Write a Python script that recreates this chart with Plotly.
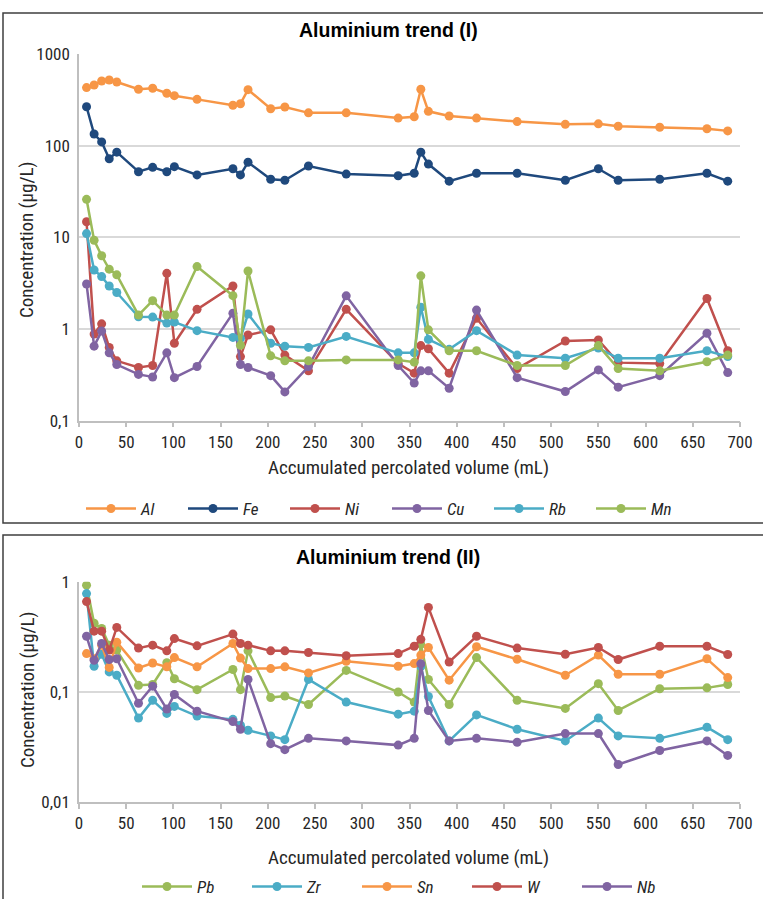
import plotly.graph_objects as go

W, H = 763, 899

volume = [8, 16, 24, 32, 40, 63, 78, 93, 101, 125, 163, 171, 179, 203, 218, 243, 283,
          338, 355, 362, 370, 392, 421, 464, 515, 550, 571, 615, 665, 687]

# Chart I
al = [430, 459, 508, 520, 495, 412, 423, 373, 351, 320, 276, 287, 408, 253, 264, 228, 228,
      200, 207, 412, 237, 211, 200, 183, 171, 173, 163, 159, 153, 145]
fe = [266, 134, 110, 72, 85, 52, 58, 52, 59, 48, 56, 48, 66, 43, 42, 60, 49,
      47, 50, 85, 63, 41, 50, 50, 42, 56, 42, 43, 50, 41]
ni = [14.8, 0.88, 1.14, 0.63, 0.45, 0.38, 0.40, 4.05, 0.70, 1.64, 2.95, 0.50, 0.86, 0.98, 0.52, 0.35, 1.64,
      0.42, 0.33, 0.66, 0.61, 0.33, 1.31, 0.37, 0.74, 0.76, 0.43, 0.42, 2.15, 0.58]
cu = [3.1, 0.65, 0.95, 0.55, 0.41, 0.32, 0.30, 0.55, 0.295, 0.39, 1.49, 0.41, 0.38, 0.31, 0.206, 0.39, 2.30,
      0.40, 0.257, 0.35, 0.35, 0.226, 1.61, 0.295, 0.208, 0.358, 0.232, 0.31, 0.90, 0.335]
rb = [11.0, 4.4, 3.73, 2.95, 2.5, 1.36, 1.35, 1.16, 1.19, 0.96, 0.81, 0.79, 1.46, 0.70, 0.65, 0.63, 0.83,
      0.55, 0.55, 1.73, 0.77, 0.60, 0.96, 0.52, 0.48, 0.62, 0.48, 0.48, 0.58, 0.50]
mn = [26, 9.3, 6.3, 4.5, 3.9, 1.42, 2.04, 1.42, 1.42, 4.8, 2.31, 0.665, 4.3, 0.51, 0.45, 0.45, 0.46,
      0.46, 0.435, 3.8, 0.98, 0.58, 0.58, 0.40, 0.40, 0.66, 0.37, 0.35, 0.44, 0.52]

# Chart II
pb = [0.93, 0.42, 0.377, 0.266, 0.24, 0.115, 0.117, 0.184, 0.132, 0.105, 0.16, 0.105, 0.236, 0.089, 0.092, 0.077, 0.157,
      0.10, 0.081, 0.27, 0.13, 0.077, 0.205, 0.084, 0.071, 0.119, 0.068, 0.107, 0.109, 0.117]
zr = [0.78, 0.171, 0.22, 0.152, 0.142, 0.058, 0.084, 0.064, 0.074, 0.0605, 0.0565, 0.05, 0.045, 0.040, 0.037, 0.13, 0.081,
      0.063, 0.067, 0.17, 0.091, 0.036, 0.062, 0.046, 0.036, 0.058, 0.040, 0.038, 0.048, 0.037]
sn = [0.223, 0.20, 0.266, 0.167, 0.283, 0.165, 0.183, 0.169, 0.205, 0.169, 0.275, 0.203, 0.163, 0.163, 0.169, 0.149, 0.19,
      0.171, 0.181, 0.216, 0.253, 0.128, 0.257, 0.198, 0.142, 0.216, 0.145, 0.145, 0.20, 0.135]
w = [0.66, 0.356, 0.356, 0.24, 0.385, 0.25, 0.266, 0.236, 0.305, 0.262, 0.335, 0.275, 0.266, 0.236, 0.236, 0.228, 0.213,
     0.223, 0.26, 0.30, 0.585, 0.187, 0.32, 0.25, 0.22, 0.253, 0.197, 0.26, 0.26, 0.219]
nb = [0.32, 0.194, 0.275, 0.197, 0.20, 0.079, 0.113, 0.070, 0.095, 0.067, 0.054, 0.046, 0.13, 0.034, 0.030, 0.038, 0.036,
      0.033, 0.038, 0.18, 0.068, 0.036, 0.038, 0.035, 0.042, 0.042, 0.022, 0.0295, 0.036, 0.0266]

series_1 = [("Al", al, "#F79646"), ("Fe", fe, "#1F497D"), ("Ni", ni, "#C0504D"),
            ("Cu", cu, "#8064A2"), ("Rb", rb, "#4BACC6"), ("Mn", mn, "#9BBB59")]
series_2 = [("Pb", pb, "#9BBB59"), ("Zr", zr, "#4BACC6"), ("Sn", sn, "#F79646"),
            ("W", w, "#C0504D"), ("Nb", nb, "#8064A2")]

x_ticks = list(range(0, 701, 50))
y1_ticks = [0.1, 1, 10, 100, 1000]
y1_text = ["0,1", "1", "10", "100", "1000"]
y2_ticks = [0.01, 0.1, 1]
y2_text = ["0,01", "0,1", "1"]

FONT = "Liberation Sans Narrow, Arial Narrow, Roboto Condensed, Liberation Sans, Arial, sans-serif"
TXT = "#262626"

fig = go.Figure()
for name, vals, col in series_1:
    fig.add_trace(go.Scatter(x=volume, y=vals, name=f"<i>{name}</i>", mode="lines+markers",
                             line=dict(color=col, width=2.5), marker=dict(color=col, size=9),
                             xaxis="x", yaxis="y", legend="legend"))
for name, vals, col in series_2:
    fig.add_trace(go.Scatter(x=volume, y=vals, name=f"<i>{name}</i>", mode="lines+markers",
                             line=dict(color=col, width=2.5), marker=dict(color=col, size=9),
                             xaxis="x2", yaxis="y2", legend="legend2"))

def px_x(p):
    return p / W

def px_y(p):
    return 1 - p / H

xdom = [px_x(79), px_x(740)]
xcommon = dict(range=[0, 700], tickvals=x_ticks, showgrid=False, zeroline=False, showline=True,
               linecolor="#BFBFBF", linewidth=1.5, ticks="outside", ticklen=5, tickcolor="#BFBFBF",
               tickwidth=1.5, tickfont=dict(family=FONT, size=17, color=TXT), domain=xdom)
ycommon = dict(type="log", showgrid=True, gridcolor="#D9D9D9", gridwidth=1.5, zeroline=False,
               showline=True, linecolor="#BFBFBF", linewidth=1.5, ticks="", ticklabelstandoff=4,
               tickfont=dict(family=FONT, size=17, color=TXT))

legend_common = dict(orientation="h", xanchor="center", yanchor="middle", bgcolor="rgba(0,0,0,0)",
                     font=dict(family=FONT, size=17, color=TXT), itemwidth=50,
                     entrywidthmode="pixels", traceorder="normal")

fig.update_layout(
    width=W, height=H, margin=dict(l=0, r=0, t=0, b=0, pad=0, autoexpand=False),
    paper_bgcolor="white", plot_bgcolor="white",
    xaxis=dict(**xcommon, anchor="y"),
    yaxis=dict(**ycommon, range=[-1, 3], tickvals=y1_ticks, ticktext=y1_text,
               domain=[px_y(420.7), px_y(54)], anchor="x"),
    xaxis2=dict(**xcommon, anchor="y2"),
    yaxis2=dict(**ycommon, range=[-2, 0], tickvals=y2_ticks, ticktext=y2_text,
                domain=[px_y(802.3), px_y(581.7)], anchor="x2"),
    legend=dict(**legend_common, x=px_x(387), y=px_y(509), entrywidth=37),
    legend2=dict(**legend_common, x=px_x(412), y=px_y(887), entrywidth=45),
    showlegend=True,
)

annotations = [
    dict(text="<b>Aluminium trend (I)</b>", x=px_x(388), y=px_y(30)),
    dict(text="<b>Aluminium trend (II)</b>", x=px_x(388), y=px_y(557)),
    dict(text="Accumulated percolated volume (mL)", x=px_x(408), y=px_y(467), fs=19),
    dict(text="Accumulated percolated volume (mL)", x=px_x(408), y=px_y(857), fs=19),
    dict(text="Concentration (µg/L)", x=px_x(27), y=px_y(240), fs=19, rot=-90),
    dict(text="Concentration (µg/L)", x=px_x(27), y=px_y(690), fs=19, rot=-90),
]
for a in annotations:
    bold = a["text"].startswith("<b>")
    fig.add_annotation(text=a["text"], x=a["x"], y=a["y"], xref="paper", yref="paper",
                       xanchor="center", yanchor="middle", showarrow=False,
                       textangle=a.get("rot", 0),
                       font=dict(family="Liberation Sans, Arial, sans-serif" if bold else FONT,
                                 size=a.get("fs", 19.5), color="#000000" if bold else TXT))

box_line = dict(color="#3F3F3F", width=1.5)
fig.add_shape(type="rect", xref="paper", yref="paper", x0=px_x(3), x1=1.02,
              y0=px_y(523), y1=px_y(13), line=box_line, fillcolor="rgba(0,0,0,0)", layer="below")
fig.add_shape(type="rect", xref="paper", yref="paper", x0=px_x(3), x1=1.02,
              y0=-0.02, y1=px_y(535), line=box_line, fillcolor="rgba(0,0,0,0)", layer="below")

fig.write_html("out.html")
